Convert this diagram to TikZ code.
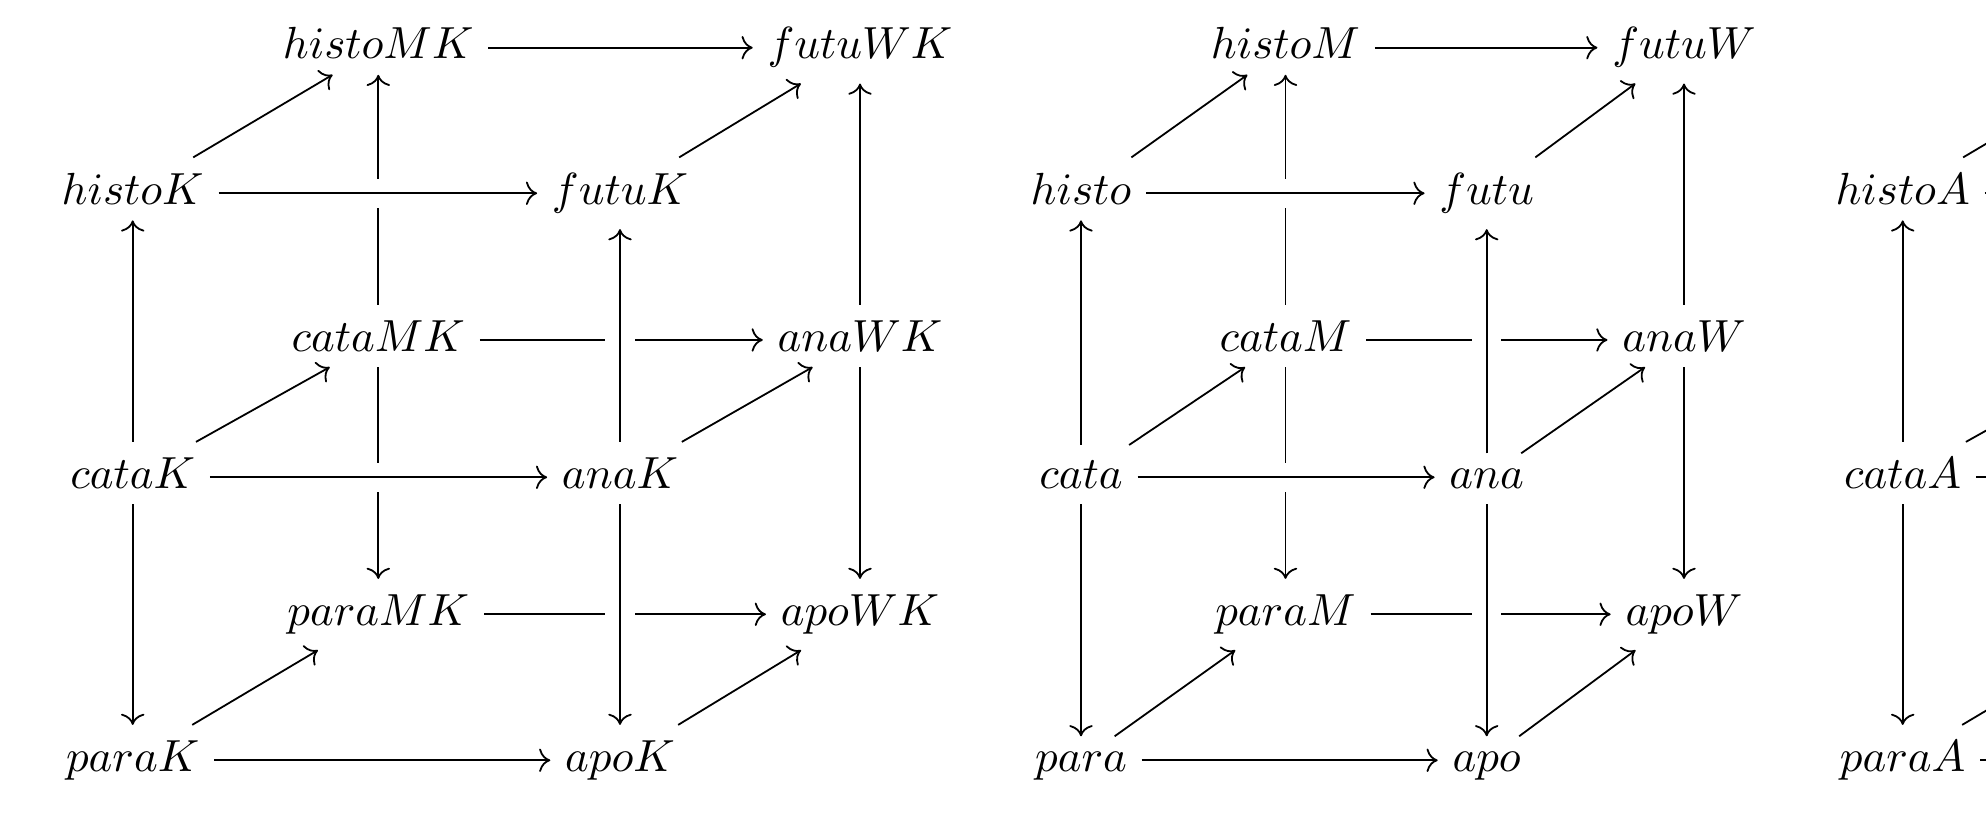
\documentclass[tikz,border=0pt]{standalone}
\usetikzlibrary{cd}
\begin{document}
\begin{tikzpicture}[x=0.2222pt, y=-0.2222pt,
  obj/.style={shape=asymmetrical rectangle, inner xsep=3.1pt, inner ysep=0.333em},
  arr/.style={-{tikzcd to}, line width=0.4pt},
  xover/.style={arr, preaction={draw, white, -, line width=1.5ex}}]
\useasboundingbox (0,0) rectangle (1986,822);
\clip (0,0) rectangle (1986,822);

% row heights (math axis) and column positions
\def\ra{47.7}  \def\rb{193.3} \def\rc{340}
\def\rd{477.3} \def\re{614.3} \def\rf{760.3}

% ---------------- cube with K ----------------
\node[obj] (hMK) at (378.3,\ra) {$histoMK$};
\node[obj] (fWK) at (860,\ra)   {$futuWK$};
\node[obj] (hK)  at (132.7,\rb) {$histoK$};
\node[obj] (fK)  at (620,\rb)   {$futuK$};
\node[obj] (cMK) at (378.3,\rc) {$cataMK$};
\node[obj] (aWK) at (860,\rc)   {$anaWK$};
\node[obj] (cK)  at (132.7,\rd) {$cataK$};
\node[obj] (aK)  at (620,\rd)   {$anaK$};
\node[obj] (pMK) at (378.3,\re) {$paraMK$};
\node[obj] (oWK) at (860,\re)   {$apoWK$};
\node[obj] (pK)  at (132.7,\rf) {$paraK$};
\node[obj] (oK)  at (620,\rf)   {$apoK$};

\draw[arr] (hMK) -- (fWK);
\draw[arr] (hK) -- (hMK);
\draw[arr] (fK) -- (fWK);
\draw[arr] (cMK) -- (hMK);
\draw[arr] (cMK) -- (pMK);
\draw[arr] (cMK) -- (aWK);
\draw[arr] (aWK) -- (fWK);
\draw[arr] (aWK) -- (oWK);
\draw[arr] (cK) -- (hK);
\draw[arr] (cK) -- (pK);
\draw[arr] (cK) -- (cMK);
\draw[arr] (aK) -- (aWK);
\draw[arr] (pMK) -- (oWK);
\draw[arr] (pK) -- (pMK);
\draw[arr] (pK) -- (oK);
\draw[arr] (oK) -- (oWK);
\draw[xover] (hK) -- (fK);
\draw[xover] (cK) -- (aK);
\draw[xover] (aK) -- (fK);
\draw[xover] (aK) -- (oK);

% ---------------- plain cube ----------------
\node[obj] (hM) at (1285.5,\ra) {$histoM$};
\node[obj] (fW) at (1684,\ra)   {$futuW$};
\node[obj] (h)  at (1081,\rb)   {$histo$};
\node[obj] (f)  at (1486.7,\rb) {$futu$};
\node[obj] (cM) at (1285.5,\rc) {$cataM$};
\node[obj] (aW) at (1684,\rc)   {$anaW$};
\node[obj] (c)  at (1081,\rd)   {$cata$};
\node[obj] (a)  at (1486.7,\rd) {$ana$};
\node[obj] (pM) at (1285.5,\re) {$paraM$};
\node[obj] (oW) at (1684,\re)   {$apoW$};
\node[obj] (p)  at (1081,\rf)   {$para$};
\node[obj] (o)  at (1486.7,\rf) {$apo$};

\draw[arr] (hM) -- (fW);
\draw[arr] (h) -- (hM);
\draw[arr] (f) -- (fW);
\draw[arr] (cM) -- (hM);
\draw[arr] (cM) -- (pM);
\draw[arr] (cM) -- (aW);
\draw[arr] (aW) -- (fW);
\draw[arr] (aW) -- (oW);
\draw[arr] (c) -- (h);
\draw[arr] (c) -- (p);
\draw[arr] (c) -- (cM);
\draw[arr] (a) -- (aW);
\draw[arr] (pM) -- (oW);
\draw[arr] (p) -- (pM);
\draw[arr] (p) -- (o);
\draw[arr] (o) -- (oW);
\draw[xover] (h) -- (f);
\draw[xover] (c) -- (a);
\draw[xover] (a) -- (f);
\draw[xover] (a) -- (o);

% ---------------- cube with A (runs past the right edge) ----------------
\node[obj] (hA) at (1902.7,\rb) {$histoA$};
\node[obj] (cA) at (1902.7,\rd) {$cataA$};
\node[obj] (pA) at (1902.7,\rf) {$paraA$};
\coordinate (hMA) at (2148,\ra);
\coordinate (cMA) at (2148,\rc);
\coordinate (pMA) at (2148,\re);
\coordinate (fA)  at (2390,\rb);
\coordinate (aA)  at (2390,\rd);
\coordinate (oA)  at (2390,\rf);

\draw[arr] (cA) -- (hA);
\draw[arr] (cA) -- (pA);
\draw[arr] (hA) -- (hMA);
\draw[arr] (cA) -- (cMA);
\draw[arr] (pA) -- (pMA);
\draw[xover] (hA) -- (fA);
\draw[xover] (cA) -- (aA);
\draw[arr] (pA) -- (oA);
\end{tikzpicture}
\end{document}
